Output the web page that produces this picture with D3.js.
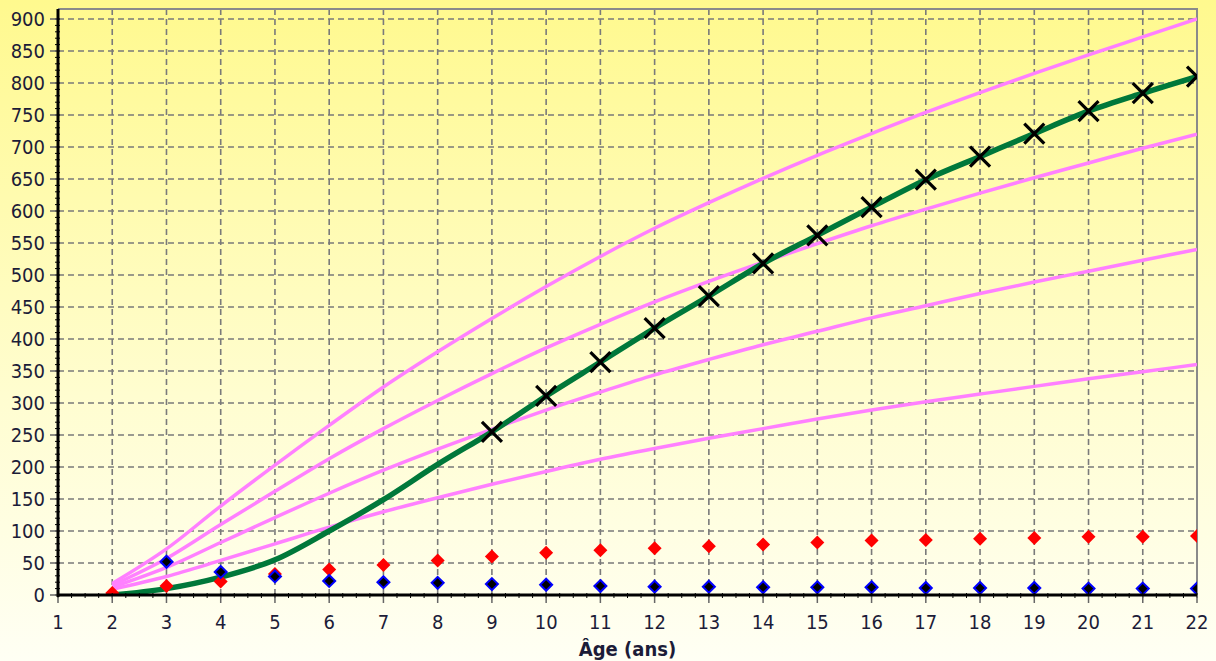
<html>
<head>
<script src="https://d3js.org/d3.v7.min.js"></script>
<style>
body { margin: 0; }
text { font-family: "DejaVu Sans Condensed", "DejaVu Sans", sans-serif; font-stretch: condensed; fill: #1c1c38; }
</style>
</head>
<body>
<script>

// ages on the x axis
var ages = [2, 3, 4, 5, 6, 7, 8, 9, 10, 11, 12, 13, 14, 15, 16, 17, 18, 19, 20, 21, 22];

// pink reference curves
var curveA = [18, 72, 139, 203, 265, 325, 380, 432, 482, 529, 573, 613, 651, 687, 721, 754, 785, 815, 844, 872, 900];
var curveB = [15, 57, 110, 162, 213, 260, 304, 346, 386, 423, 458, 490, 520, 549, 577, 603, 628, 652, 675, 698, 720];
var curveC = [12, 43, 82, 121, 159, 195, 228, 259, 289, 317, 344, 368, 391, 412, 433, 452, 471, 489, 506, 523, 540];
var curveD = [9, 29, 54, 80, 106, 130, 152, 173, 193, 212, 229, 245, 260, 275, 289, 302, 314, 326, 338, 349, 360];

// green line and the X marks on it
var green = [0, 10, 28, 55, 100, 149, 204, 255, 311, 364, 417, 467, 518, 562, 606, 649, 685, 721, 756, 784, 810];
var markedFrom = 9;

// red and blue diamonds
var red = [3, 14, 21, 33, 40, 47, 54, 60, 66, 70, 73, 76, 79, 82, 85, 86, 88, 89, 91, 91, 92];
var blue = [null, 52, 36, 29, 22, 20, 19, 17, 16, 14, 13, 13, 12, 12, 12, 11, 11, 11, 10, 10, 10];

var xTicks = [1, 2, 3, 4, 5, 6, 7, 8, 9, 10, 11, 12, 13, 14, 15, 16, 17, 18, 19, 20, 21, 22];
var yTicks = [0, 50, 100, 150, 200, 250, 300, 350, 400, 450, 500, 550, 600, 650, 700, 750, 800, 850, 900];

var W = 1216, H = 661;
var pLeft = 58, pRight = 1197, pTop = 9, pBottom = 595;

var x = d3.scaleLinear().domain([1, 22]).range([pLeft, pRight]);
var y = d3.scaleLinear().domain([0, 900]).range([pBottom, 19]);

var svg = d3.select("body").append("svg").attr("width", W).attr("height", H);

var defs = svg.append("defs");
var grad = defs.append("linearGradient").attr("id", "bg")
	.attr("x1", 0).attr("y1", 0).attr("x2", 0).attr("y2", 1);
grad.append("stop").attr("offset", "0%").attr("stop-color", "#fff98e");
grad.append("stop").attr("offset", "60%").attr("stop-color", "#fffdd0");
grad.append("stop").attr("offset", "100%").attr("stop-color", "#fffff4");
defs.append("clipPath").attr("id", "plot").append("rect")
	.attr("x", pLeft).attr("y", pTop).attr("width", pRight - pLeft).attr("height", pBottom - pTop);

svg.append("rect").attr("width", W).attr("height", H).attr("fill", "url(#bg)");

// grid
var grid = svg.append("g").attr("stroke", "#7a7a7a").attr("stroke-width", 1.6).attr("stroke-dasharray", "6,4");
grid.selectAll(".gx").data(xTicks.slice(1, -1)).enter().append("line")
	.attr("x1", d => x(d)).attr("x2", d => x(d)).attr("y1", pTop).attr("y2", pBottom);
grid.selectAll(".gy").data(yTicks.slice(1)).enter().append("line")
	.attr("x1", pLeft).attr("x2", pRight).attr("y1", d => y(d)).attr("y2", d => y(d));

// frame top and right
svg.append("path").attr("d", "M" + pLeft + "," + pTop + "H" + pRight + "V" + pBottom)
	.attr("fill", "none").attr("stroke", "#8a8a8a").attr("stroke-width", 2);

var plot = svg.append("g").attr("clip-path", "url(#plot)");

var line = d3.line().x((d, i) => x(ages[i])).y(d => y(d)).curve(d3.curveMonotoneX);

[curveA, curveB, curveC, curveD].forEach(function(c) {
	plot.append("path").attr("d", line(c)).attr("fill", "none")
		.attr("stroke", "#ff80ff").attr("stroke-width", 3.5);
});

plot.append("path").attr("d", line(green)).attr("fill", "none")
	.attr("stroke", "#00783a").attr("stroke-width", 5.5);

// X marks
var marks = ages.map((a, i) => [a, green[i]]).filter(d => d[0] >= markedFrom);
plot.selectAll(".mk").data(marks).enter().append("path")
	.attr("d", function(d) {
		var cx = x(d[0]), cy = y(d[1]), s = 10;
		return "M" + (cx - s) + "," + (cy - s) + "L" + (cx + s) + "," + (cy + s) +
			"M" + (cx - s) + "," + (cy + s) + "L" + (cx + s) + "," + (cy - s);
	})
	.attr("stroke", "#000").attr("stroke-width", 3.2).attr("fill", "none");

function diamond(cx, cy, s) {
	return "M" + cx + "," + (cy - s) + "L" + (cx + s) + "," + cy + "L" + cx + "," + (cy + s) + "L" + (cx - s) + "," + cy + "Z";
}

plot.selectAll(".rd").data(ages.map((a, i) => [a, red[i]])).enter().append("path")
	.attr("d", d => diamond(x(d[0]), y(d[1]), 7))
	.attr("fill", "#ff0000");

plot.selectAll(".bd").data(ages.map((a, i) => [a, blue[i]]).filter(d => d[1] != null)).enter().append("path")
	.attr("d", d => diamond(x(d[0]), y(d[1]), 6))
	.attr("fill", "#000").attr("stroke", "#0000ff").attr("stroke-width", 2);

// axes
var ax = svg.append("g").attr("stroke", "#000");
ax.selectAll(".mx").data(d3.range(1, 22.01, 0.25)).enter().append("line")
	.attr("x1", d => x(d)).attr("x2", d => x(d)).attr("y1", pBottom - 2).attr("y2", pBottom + 3).attr("stroke-width", 1);
ax.selectAll(".my").data(d3.range(0, 900.1, 10)).enter().append("line")
	.attr("x1", pLeft - 3).attr("x2", pLeft + 2).attr("y1", d => y(d)).attr("y2", d => y(d)).attr("stroke-width", 1);
ax.selectAll(".tx").data(xTicks).enter().append("line")
	.attr("x1", d => x(d)).attr("x2", d => x(d)).attr("y1", pBottom).attr("y2", pBottom + 8).attr("stroke-width", 1.5).attr("stroke", "#666");
ax.selectAll(".ty").data(yTicks).enter().append("line")
	.attr("x1", pLeft - 8).attr("x2", pLeft).attr("y1", d => y(d)).attr("y2", d => y(d)).attr("stroke-width", 1.5).attr("stroke", "#666");
ax.append("line").attr("x1", pLeft).attr("x2", pLeft).attr("y1", pTop).attr("y2", pBottom + 2).attr("stroke-width", 3);
ax.append("line").attr("x1", pLeft - 1).attr("x2", pRight).attr("y1", pBottom).attr("y2", pBottom).attr("stroke-width", 3);

svg.selectAll(".lx").data(xTicks).enter().append("text")
	.attr("x", d => x(d)).attr("y", 629).attr("text-anchor", "middle")
	.style("font-size", "20px").text(d => d);
svg.selectAll(".ly").data(yTicks).enter().append("text")
	.attr("x", 45).attr("y", d => y(d) + 7).attr("text-anchor", "end")
	.style("font-size", "20px").text(d => d);

svg.append("text").attr("x", (pLeft + pRight) / 2).attr("y", 656).attr("text-anchor", "middle")
	.style("font-size", "20px").style("font-weight", "bold").text("Âge (ans)");

</script>
</body>
</html>
